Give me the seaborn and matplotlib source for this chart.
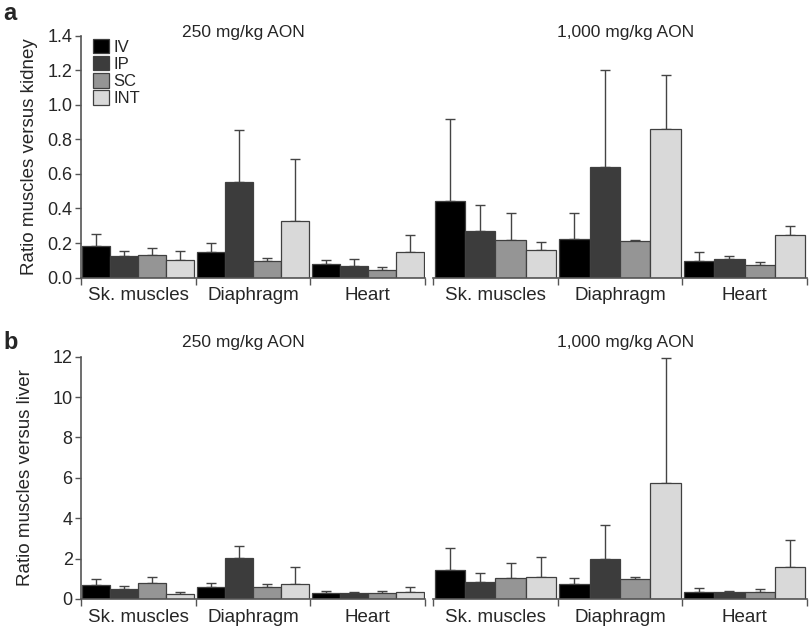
import numpy as np
import pandas as pd
import seaborn as sns
import matplotlib.pyplot as plt

sns.set_theme(style="white", context="paper")
plt.rcParams["font.family"] = ["Liberation Sans", "DejaVu Sans"]

groups = ["Sk. muscles", "Diaphragm", "Heart"]
routes = ["IV", "IP", "SC", "INT"]
colors = ["#000000", "#3c3c3c", "#959595", "#d9d9d9"]

# panel a: ratio muscles versus kidney (mean, upper error)
kid_250 = {"IV": [0.18, 0.15, 0.077], "IP": [0.124, 0.55, 0.068],
           "SC": [0.13, 0.098, 0.046], "INT": [0.10, 0.33, 0.15]}
kid_250_sd = {"IV": [0.07, 0.05, 0.025], "IP": [0.032, 0.306, 0.042],
              "SC": [0.04, 0.014, 0.018], "INT": [0.056, 0.353, 0.097]}
kid_1000 = {"IV": [0.442, 0.226, 0.093], "IP": [0.272, 0.64, 0.108],
            "SC": [0.218, 0.21, 0.07], "INT": [0.162, 0.86, 0.245]}
kid_1000_sd = {"IV": [0.476, 0.146, 0.056], "IP": [0.145, 0.558, 0.014],
               "SC": [0.154, 0.008, 0.019], "INT": [0.044, 0.313, 0.056]}

# panel b: ratio muscles versus liver
liv_250 = {"IV": [0.69, 0.58, 0.31], "IP": [0.51, 2.01, 0.28],
           "SC": [0.78, 0.61, 0.30], "INT": [0.25, 0.76, 0.36]}
liv_250_sd = {"IV": [0.28, 0.20, 0.10], "IP": [0.13, 0.63, 0.08],
              "SC": [0.32, 0.12, 0.11], "INT": [0.11, 0.81, 0.23]}
liv_1000 = {"IV": [1.42, 0.76, 0.35], "IP": [0.84, 1.98, 0.36],
            "SC": [1.04, 0.99, 0.36], "INT": [1.10, 5.73, 1.60]}
liv_1000_sd = {"IV": [1.12, 0.26, 0.18], "IP": [0.43, 1.68, 0.02],
               "SC": [0.73, 0.08, 0.12], "INT": [0.96, 6.19, 1.32]}

SPINE = "#555555"


def to_long(means):
    rows = []
    for r in routes:
        for g, v in zip(groups, means[r]):
            rows.append({"group": g, "route": r, "value": v})
    return pd.DataFrame(rows)


def draw(ax, means, sds, ylim, yticks, show_y, legend=False):
    df = to_long(means)
    sns.barplot(data=df, x="group", y="value", hue="route", order=groups,
                hue_order=routes, palette=colors, width=0.975, gap=0,
                edgecolor="#404040", linewidth=0.9, errorbar=None,
                legend=legend, ax=ax, zorder=2)
    for cont, r in zip(ax.containers, routes):
        xs = [b.get_x() + b.get_width() / 2 for b in cont]
        ys = [b.get_height() for b in cont]
        ax.errorbar(xs, ys, yerr=[np.zeros(len(ys)), sds[r]], fmt="none",
                    ecolor="#444444", elinewidth=1.0, capsize=3.5,
                    capthick=1.0, zorder=1)
    ax.set_xlim(-0.5, 2.5)
    ax.set_ylim(*ylim)
    ax.set_xlabel("")
    ax.set_ylabel("")
    ax.set_xticks([0, 1, 2])
    ax.set_xticklabels(groups, fontsize=13.5)
    ax.set_xticks([-0.5, 0.5, 1.5, 2.5], minor=True)
    ax.tick_params(axis="x", which="major", length=0, pad=7)
    ax.tick_params(axis="x", which="minor", length=5, width=1,
                   color=SPINE, direction="out", bottom=True)
    for s in ["top", "right"]:
        ax.spines[s].set_visible(False)
    ax.spines["bottom"].set_color(SPINE)
    ax.spines["bottom"].set_linewidth(1.2)
    if show_y:
        ax.spines["left"].set_color(SPINE)
        ax.spines["left"].set_linewidth(1.2)
        ax.set_yticks(yticks)
        ax.tick_params(axis="y", length=4, width=1, color=SPINE,
                       direction="out", left=True, labelsize=13, pad=2)
    else:
        ax.spines["left"].set_visible(False)
        ax.set_yticks([])


fig = plt.figure(figsize=(8.1, 6.28), dpi=100)
ax_a1 = fig.add_axes([0.1, 0.558, 0.4247, 0.3854])
ax_a2 = fig.add_axes([0.5346, 0.558, 0.4617, 0.3854])
ax_b1 = fig.add_axes([0.1, 0.0462, 0.4247, 0.3858])
ax_b2 = fig.add_axes([0.5346, 0.0462, 0.4617, 0.3858])

draw(ax_a1, kid_250, kid_250_sd, (0, 1.4), np.arange(0, 1.41, 0.2), True,
     legend=True)
draw(ax_a2, kid_1000, kid_1000_sd, (0, 1.4), None, False)
draw(ax_b1, liv_250, liv_250_sd, (0, 12), np.arange(0, 13, 2), True)
draw(ax_b2, liv_1000, liv_1000_sd, (0, 12), None, False)

ax_a1.set_yticklabels([f"{t:.1f}" for t in np.arange(0, 1.41, 0.2)])
ax_b1.set_yticklabels([f"{t:d}" for t in range(0, 13, 2)])

ax_a1.set_ylabel("Ratio muscles versus kidney", fontsize=13.5, labelpad=7)
ax_b1.set_ylabel("Ratio muscles versus liver", fontsize=13.5, labelpad=13)

leg = ax_a1.legend(loc="upper left", bbox_to_anchor=(0.0, 1.035),
                   frameon=False, fontsize=12, handlelength=0.95,
                   handleheight=0.95, handletextpad=0.3, labelspacing=0.08,
                   borderaxespad=0.3)
for h in leg.legend_handles:
    h.set_edgecolor("#404040")

fig.text(0.3, 0.949, "250 mg/kg AON", ha="center", va="center", fontsize=12.5)
fig.text(0.772, 0.949, "1,000 mg/kg AON", ha="center", va="center", fontsize=12.5)
fig.text(0.3, 0.454, "250 mg/kg AON", ha="center", va="center", fontsize=12.5)
fig.text(0.772, 0.454, "1,000 mg/kg AON", ha="center", va="center", fontsize=12.5)

fig.text(0.004, 0.979, "a", ha="left", va="center", fontsize=17, weight="bold")
fig.text(0.004, 0.455, "b", ha="left", va="center", fontsize=17, weight="bold")

fig.savefig("out.png", dpi=100, facecolor="white")
